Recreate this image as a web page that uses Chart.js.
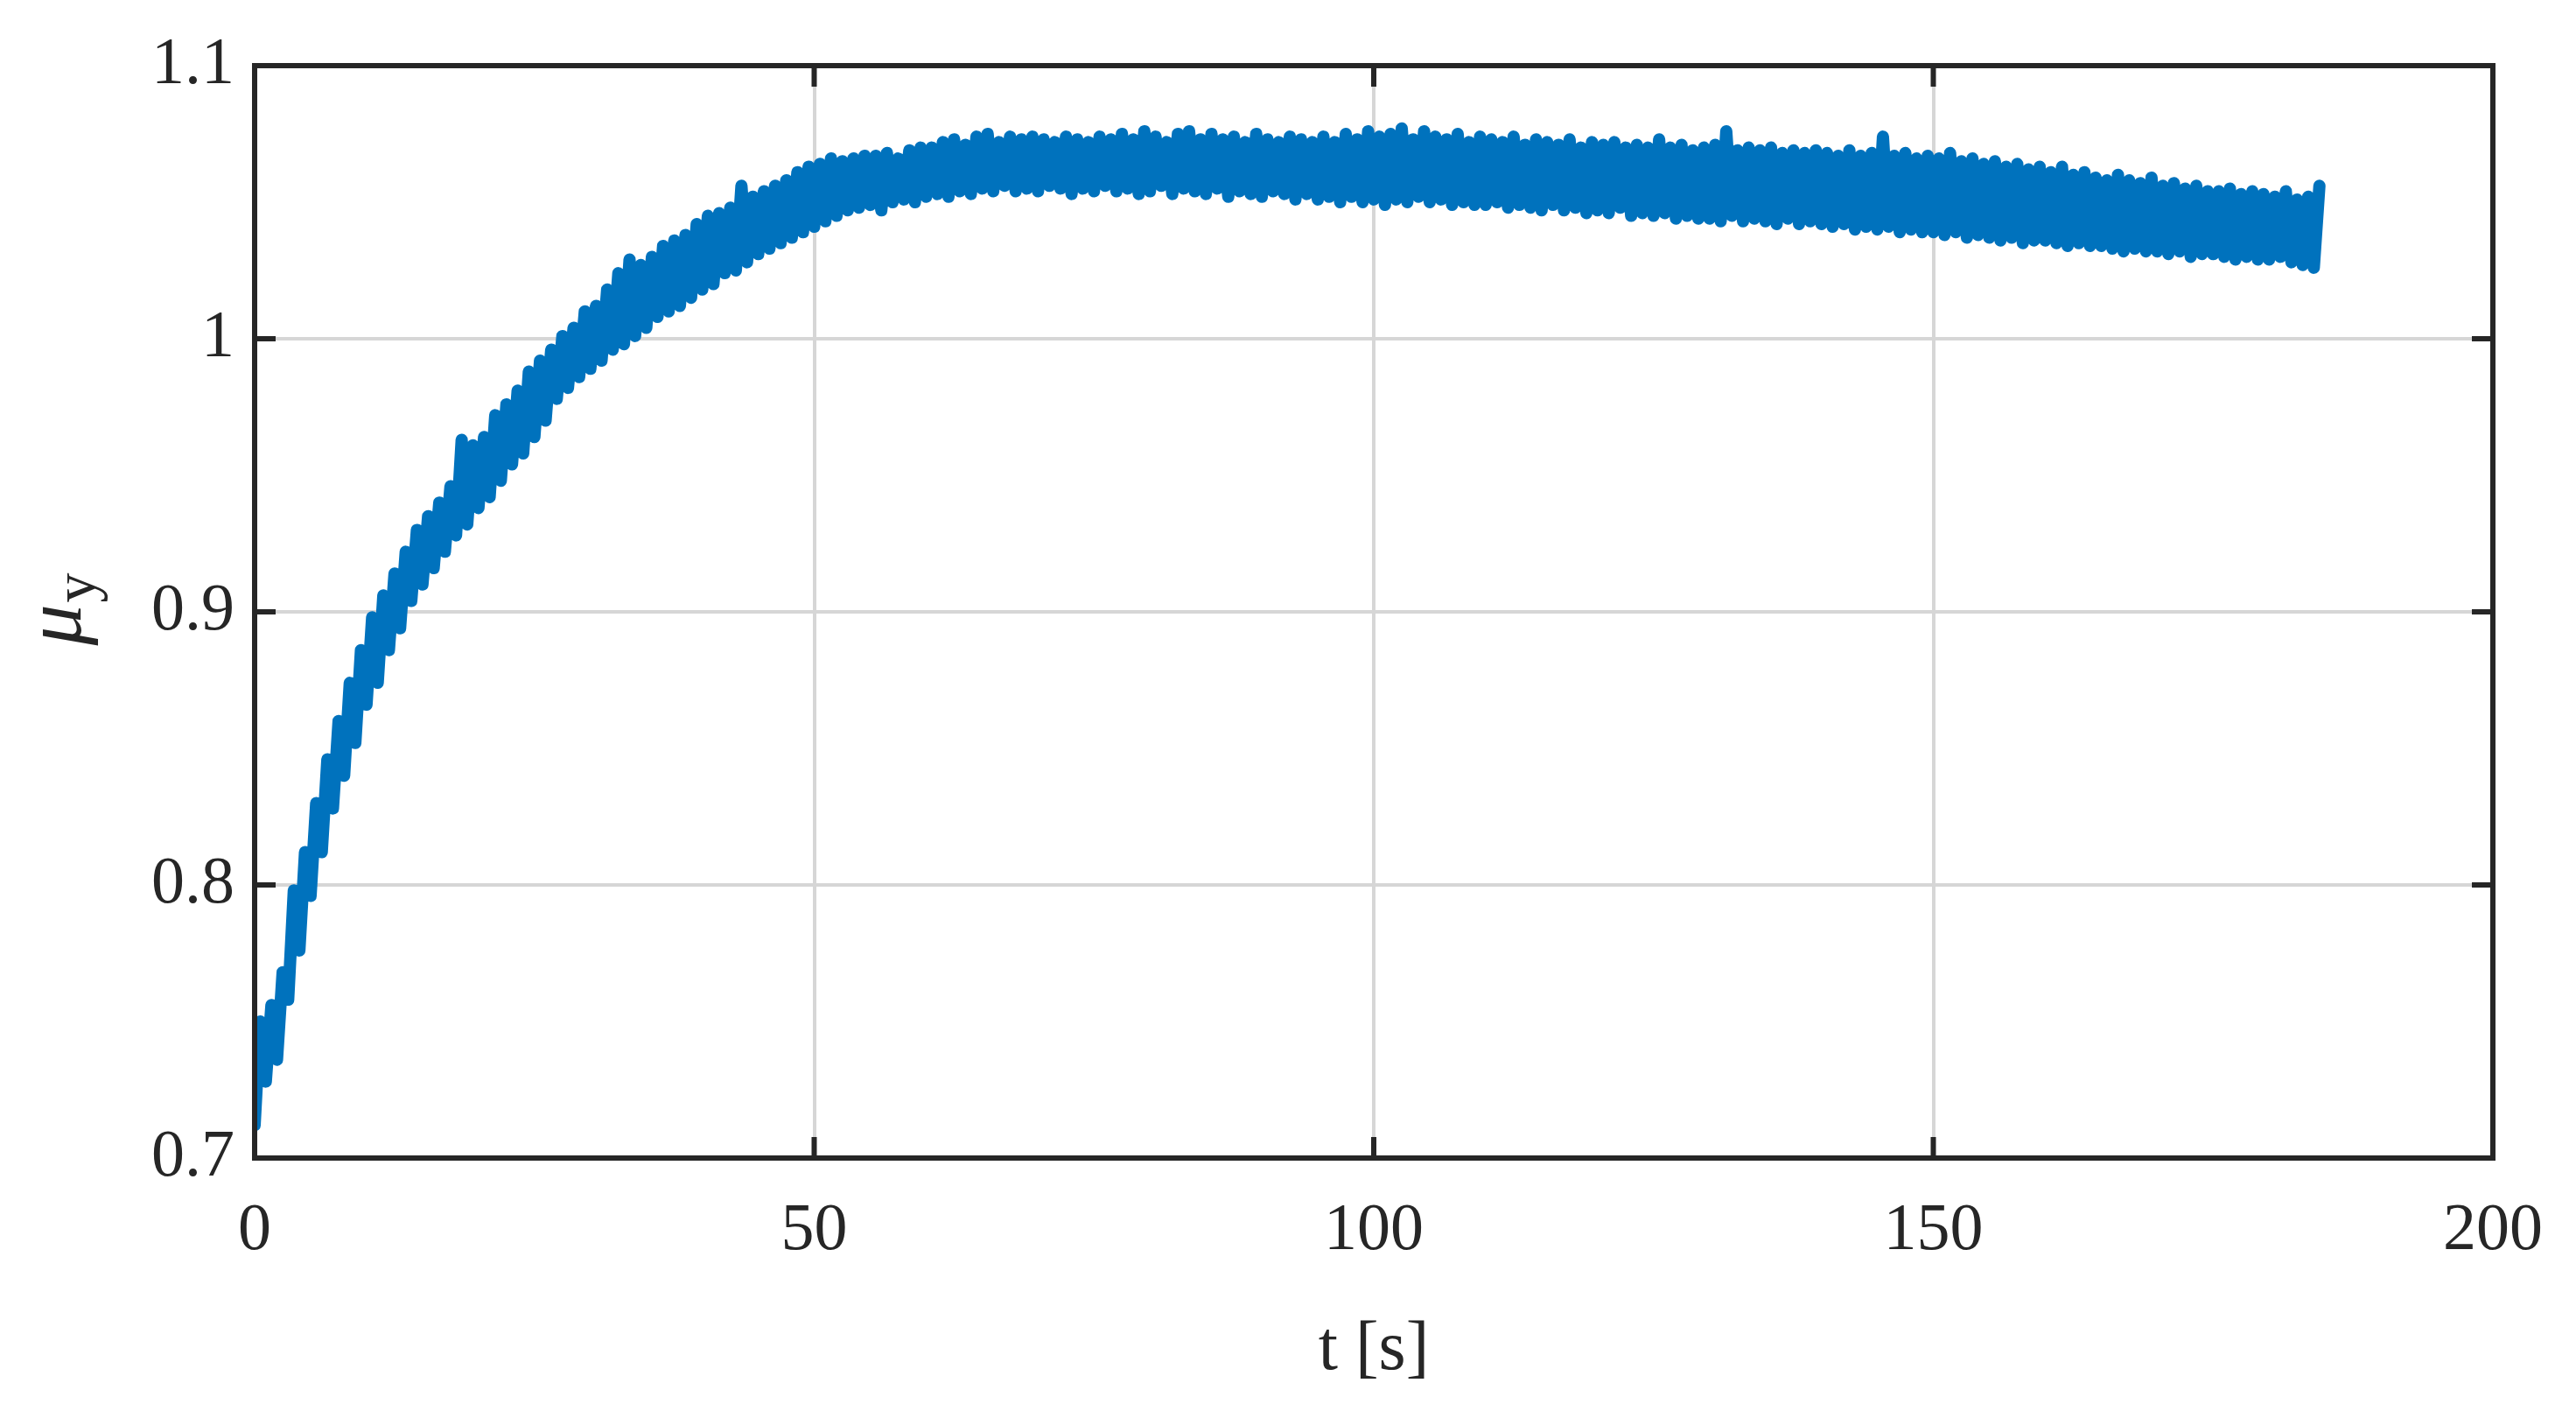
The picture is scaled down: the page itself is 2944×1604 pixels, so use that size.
<!DOCTYPE html>
<html>
<head>
<meta charset="utf-8">
<title>mu_y over time</title>
<script src="https://cdn.jsdelivr.net/npm/chart.js@4.4.1/dist/chart.umd.min.js"></script>
<style>
html, body { margin: 0; padding: 0; background: #fff; }
#wrap { width: 2944px; height: 1604px; position: relative; }
</style>
</head>
<body>
<div id="wrap"><canvas id="muChart" width="2944" height="1604"></canvas></div>
<script>
// ---------- DATA ----------
// signal sampled every half second, read off the picture
// (it swings fast between a low and a high edge, one row = 5 s)
const sampleStep = 0.5;
const muValues = [
  0.712, 0.750, 0.728, 0.756, 0.736, 0.768, 0.758, 0.798, 0.776, 0.812,
  0.796, 0.830, 0.812, 0.846, 0.828, 0.860, 0.840, 0.874, 0.852, 0.886,
  0.866, 0.898, 0.874, 0.906, 0.886, 0.914, 0.894, 0.922, 0.904, 0.930,
  0.910, 0.935, 0.916, 0.940, 0.922, 0.946, 0.928, 0.963, 0.932, 0.961,
  0.938, 0.964, 0.942, 0.972, 0.948, 0.976, 0.954, 0.981, 0.958, 0.988,
  0.964, 0.992, 0.970, 0.996, 0.978, 1.001, 0.982, 1.004, 0.986, 1.010,
  0.989, 1.012, 0.992, 1.018, 0.996, 1.024, 0.998, 1.029, 1.001, 1.027,
  1.004, 1.030, 1.008, 1.034, 1.010, 1.036, 1.012, 1.038, 1.015, 1.042,
  1.018, 1.045, 1.020, 1.046, 1.024, 1.048, 1.025, 1.056, 1.028, 1.052,
  1.031, 1.054, 1.033, 1.056, 1.035, 1.058, 1.037, 1.061, 1.039, 1.063,
  1.041, 1.064, 1.043, 1.066, 1.045, 1.065, 1.047, 1.066, 1.048, 1.067,
  1.049, 1.067, 1.047, 1.068, 1.050, 1.066, 1.051, 1.069, 1.050, 1.070,
  1.052, 1.070, 1.053, 1.072, 1.052, 1.073, 1.054, 1.071, 1.053, 1.074,
  1.055, 1.075, 1.054, 1.072, 1.056, 1.074, 1.054, 1.073, 1.055, 1.074,
  1.054, 1.073, 1.056, 1.072, 1.055, 1.074, 1.053, 1.073, 1.055, 1.072,
  1.054, 1.074, 1.056, 1.073, 1.054, 1.075, 1.055, 1.073, 1.053, 1.076,
  1.054, 1.074, 1.056, 1.072, 1.053, 1.075, 1.055, 1.076, 1.054, 1.073,
  1.053, 1.075, 1.055, 1.073, 1.052, 1.074, 1.054, 1.072, 1.053, 1.075,
  1.052, 1.073, 1.054, 1.072, 1.053, 1.074, 1.051, 1.073, 1.053, 1.072,
  1.051, 1.074, 1.052, 1.072, 1.050, 1.075, 1.052, 1.073, 1.050, 1.076,
  1.051, 1.074, 1.049, 1.075, 1.051, 1.077, 1.050, 1.073, 1.052, 1.076,
  1.050, 1.074, 1.051, 1.073, 1.049, 1.075, 1.050, 1.072, 1.049, 1.074,
  1.049, 1.073, 1.050, 1.072, 1.048, 1.074, 1.049, 1.071, 1.048, 1.073,
  1.047, 1.072, 1.049, 1.071, 1.047, 1.073, 1.048, 1.070, 1.046, 1.072,
  1.047, 1.071, 1.046, 1.072, 1.048, 1.070, 1.045, 1.071, 1.046, 1.070,
  1.045, 1.073, 1.046, 1.070, 1.044, 1.071, 1.045, 1.069, 1.044, 1.070,
  1.044, 1.071, 1.043, 1.076, 1.045, 1.069, 1.043, 1.070, 1.044, 1.069,
  1.043, 1.070, 1.042, 1.068, 1.044, 1.069, 1.042, 1.068, 1.043, 1.069,
  1.042, 1.068, 1.041, 1.067, 1.042, 1.069, 1.040, 1.067, 1.041, 1.068,
  1.040, 1.074, 1.041, 1.067, 1.039, 1.068, 1.040, 1.066, 1.039, 1.067,
  1.039, 1.066, 1.038, 1.068, 1.039, 1.065, 1.037, 1.066, 1.038, 1.064,
  1.037, 1.065, 1.036, 1.063, 1.037, 1.064, 1.035, 1.062, 1.036, 1.063,
  1.036, 1.061, 1.035, 1.063, 1.034, 1.060, 1.035, 1.061, 1.034, 1.059,
  1.034, 1.058, 1.033, 1.060, 1.032, 1.058, 1.033, 1.057, 1.032, 1.059,
  1.032, 1.056, 1.031, 1.057, 1.032, 1.055, 1.030, 1.056, 1.031, 1.054,
  1.031, 1.054, 1.030, 1.055, 1.029, 1.053, 1.030, 1.054, 1.029, 1.053,
  1.029, 1.052, 1.030, 1.054, 1.028, 1.051, 1.027, 1.052, 1.026, 1.056
];
const timeValues = muValues.map((v, i) => i * sampleStep);

const xTicks = [0, 50, 100, 150, 200];
const yTicks = [0.7, 0.8, 0.9, 1.0, 1.1];

// ---------- STYLE ----------
const ink = '#262626';
const lineBlue = '#0072BD';
const gridGrey = '#d6d6d6';
const fontFamily = '"Liberation Serif", "DejaVu Serif", serif';

// ---------- FRAME + INWARD TICKS + Y LABEL ----------
const boxPlugin = {
  id: 'boxPlugin',
  afterDatasetsDraw(chart) {
    const ctx = chart.ctx;
    const a = chart.chartArea;
    const xs = chart.scales.x;
    const ys = chart.scales.y;
    const tickLen = 24;
    ctx.save();
    ctx.strokeStyle = ink;
    ctx.lineWidth = 6;
    ctx.lineCap = 'butt';
    xTicks.slice(1, -1).forEach(v => {
      const px = xs.getPixelForValue(v);
      ctx.beginPath();
      ctx.moveTo(px, a.bottom); ctx.lineTo(px, a.bottom - tickLen);
      ctx.moveTo(px, a.top); ctx.lineTo(px, a.top + tickLen);
      ctx.stroke();
    });
    yTicks.slice(1, -1).forEach(v => {
      const py = ys.getPixelForValue(v);
      ctx.beginPath();
      ctx.moveTo(a.left, py); ctx.lineTo(a.left + tickLen, py);
      ctx.moveTo(a.right, py); ctx.lineTo(a.right - tickLen, py);
      ctx.stroke();
    });
    ctx.lineJoin = 'miter';
    ctx.strokeRect(a.left, a.top, a.right - a.left, a.bottom - a.top);

    // y label: italic mu with a subscript y, turned on its side
    ctx.translate(92, 697);
    ctx.rotate(-Math.PI / 2);
    ctx.fillStyle = ink;
    ctx.textBaseline = 'alphabetic';
    ctx.font = 'italic 94px ' + fontFamily;
    const muW = ctx.measureText('\u03BC').width;
    ctx.font = '68px ' + fontFamily;
    const yW = ctx.measureText('y').width;
    const start = -(muW + yW) / 2;
    ctx.font = 'italic 94px ' + fontFamily;
    ctx.fillText('\u03BC', start, 0);
    ctx.font = '68px ' + fontFamily;
    ctx.fillText('y', start + muW + 2, 17);
    ctx.restore();
  }
};

// ---------- CHART ----------
function buildChart() {
  const ctx = document.getElementById('muChart').getContext('2d');
  const points = timeValues.map((t, i) => ({ x: t, y: muValues[i] }));

  return new Chart(ctx, {
    type: 'line',
    data: {
      datasets: [{
        label: 'mu_y',
        data: points,
        borderColor: lineBlue,
        borderWidth: 14,
        borderJoinStyle: 'round',
        borderCapStyle: 'round',
        pointRadius: 0,
        tension: 0,
        fill: false
      }]
    },
    options: {
      responsive: false,
      devicePixelRatio: 1,
      animation: false,
      layout: { padding: { top: 75, right: 85, left: 0, bottom: 0 } },
      plugins: { legend: { display: false }, tooltip: { enabled: false } },
      scales: {
        x: {
          type: 'linear',
          min: 0, max: 200,
          afterBuildTicks: s => { s.ticks = xTicks.map(v => ({ value: v })); },
          afterFit: s => { s.height = 281; },
          grid: { color: gridGrey, lineWidth: 4, drawTicks: false },
          border: { display: false },
          ticks: {
            color: ink,
            padding: 38,
            maxRotation: 0,
            font: { family: fontFamily, size: 76 },
            callback: v => String(v)
          },
          title: {
            display: true,
            text: 't [s]',
            color: ink,
            font: { family: fontFamily, size: 80 },
            padding: { top: 0, bottom: 13 }
          }
        },
        y: {
          type: 'linear',
          min: 0.7, max: 1.1,
          afterBuildTicks: s => { s.ticks = yTicks.map(v => ({ value: v })); },
          afterFit: s => { s.width = 291; },
          grid: { color: gridGrey, lineWidth: 4, drawTicks: false },
          border: { display: false },
          ticks: {
            color: ink,
            padding: 23,
            font: { family: fontFamily, size: 76 },
            callback: v => String(Number(v.toFixed(1)))
          }
        }
      }
    },
    plugins: [boxPlugin]
  });
}

// ---------- INIT ----------
buildChart();
</script>
</body>
</html>
